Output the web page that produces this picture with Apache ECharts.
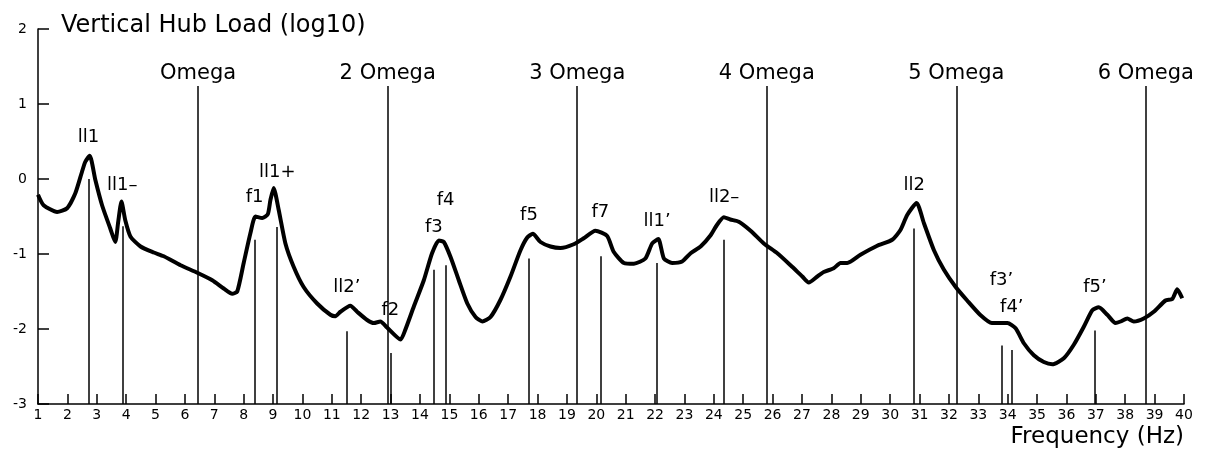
<!DOCTYPE html>
<html>
<head>
<meta charset="utf-8">
<title>Vertical Hub Load</title>
<script src="https://cdn.jsdelivr.net/npm/echarts@6/dist/echarts.min.js"></script>
<style>
  html, body { margin: 0; padding: 0; background: #fff; }
  #chart { width: 1213px; height: 458px; }
</style>
</head>
<body>
<div id="chart"></div>
<script>
// response curve (Hz, log10 load)
const freq = [
  1.00, 1.19, 1.65, 1.99, 2.27, 2.50, 2.61, 2.76, 2.95, 3.18, 3.46, 3.63, 3.73, 3.84, 3.97, 4.15,
  4.49, 4.94, 5.28, 5.85, 6.42, 6.93, 7.32, 7.61, 7.78, 8.00, 8.23, 8.40, 8.63, 8.82, 8.91, 9.02,
  9.19, 9.42, 9.70, 10.04, 10.50, 10.95, 11.12, 11.29, 11.63, 11.86, 12.20, 12.43, 12.65, 12.88,
  13.34, 13.50, 13.79, 14.13, 14.41, 14.64, 14.81, 15.04, 15.32, 15.61, 15.89, 16.12, 16.40, 16.74,
  17.08, 17.42, 17.65, 17.84, 18.10, 18.44, 18.78, 19.23, 19.57, 19.97, 20.37, 20.59, 20.94, 21.28,
  21.67, 21.90, 22.11, 22.30, 22.58, 22.92, 23.21, 23.55, 23.89, 24.11, 24.34, 24.56, 24.85, 25.25,
  25.70, 26.16, 26.61, 27.01, 27.23, 27.52, 27.74, 28.08, 28.31, 28.54, 28.99, 29.56, 30.07, 30.35,
  30.58, 30.90, 31.15, 31.49, 31.83, 32.23, 32.62, 33.06, 33.46, 33.99, 34.27, 34.55, 34.89, 35.23,
  35.52, 35.91, 36.25, 36.59, 36.88, 37.10, 37.39, 37.67, 37.84, 38.07, 38.29, 38.63, 38.97, 39.37,
  39.60, 39.77, 39.94
];
const load = [
  -0.21, -0.35, -0.44, -0.39, -0.19, 0.10, 0.23, 0.31, -0.01, -0.35, -0.66, -0.84, -0.57, -0.30, -0.55, -0.77,
  -0.90, -0.98, -1.03, -1.15, -1.25, -1.35, -1.46, -1.53, -1.50, -1.12, -0.72, -0.50, -0.52, -0.47, -0.28, -0.12,
  -0.41, -0.86, -1.17, -1.44, -1.66, -1.81, -1.83, -1.77, -1.69, -1.77, -1.88, -1.92, -1.90, -1.98,
  -2.14, -2.01, -1.70, -1.35, -0.99, -0.82, -0.84, -1.04, -1.35, -1.66, -1.84, -1.90, -1.84, -1.61,
  -1.30, -0.95, -0.78, -0.73, -0.84, -0.90, -0.92, -0.87, -0.79, -0.69, -0.76, -0.97, -1.12, -1.13,
  -1.06, -0.86, -0.80, -1.06, -1.12, -1.10, -0.99, -0.90, -0.75, -0.61, -0.51, -0.54, -0.57, -0.69,
  -0.86, -0.99, -1.15, -1.30, -1.38, -1.30, -1.24, -1.19, -1.12, -1.12, -1.01, -0.89, -0.81, -0.68,
  -0.48, -0.32, -0.59, -0.95, -1.21, -1.44, -1.62, -1.81, -1.92, -1.92, -1.99, -2.19, -2.35, -2.44,
  -2.47, -2.39, -2.21, -1.97, -1.75, -1.71, -1.81, -1.92, -1.90, -1.86, -1.90, -1.86, -1.77, -1.62,
  -1.60, -1.47, -1.59
];

// identified modes: stem frequency, stem top, label level
const peakNames = ['ll1', 'll1–', 'f1', 'll1+', 'll2’', 'f2', 'f3', 'f4', 'f5', 'f7', 'll1’', 'll2–', 'll2', 'f3’', 'f4’', 'f5’'];
const peakFreq = [2.72, 3.87, 8.37, 9.14, 11.51, 12.99, 14.47, 14.87, 17.71, 20.14, 22.07, 24.35, 30.82, 33.79, 34.14, 36.97];
const peakTop = [0.0, -0.63, -0.81, -0.64, -2.03, -2.32, -1.21, -1.15, -1.06, -1.03, -1.12, -0.81, -0.66, -2.22, -2.28, -2.02];
const peakLabelLevel = [0.55, -0.08, -0.25, 0.09, -1.45, -1.75, -0.64, -0.28, -0.49, -0.45, -0.57, -0.25, -0.09, -1.35, -1.71, -1.45];

// rotor harmonics
const omega = 6.45;
const omegaNames = ['Omega', '2 Omega', '3 Omega', '4 Omega', '5 Omega', '6 Omega'];
const omegaTop = 1.24;
const omegaLabelLevel = 1.41;

const font = 'DejaVu Sans';
const chart = echarts.init(document.getElementById('chart'));

const stems = peakFreq.map((f, i) => [{ coord: [f, -3] }, { coord: [f, peakTop[i]] }]);
const harmonics = omegaNames.map((n, i) => [{ coord: [omega * (i + 1), -3] }, { coord: [omega * (i + 1), omegaTop] }]);

const textLabel = size => ({
  show: true, position: 'inside', formatter: p => p.name,
  fontSize: size, color: '#000', fontFamily: font,
  textBorderWidth: 0, textBorderColor: 'transparent', opacity: 1
});

chart.setOption({
  animation: false,
  textStyle: { fontFamily: font, color: '#000' },
  title: {
    text: 'Vertical Hub Load (log10)',
    left: 56, top: 9,
    textStyle: { fontFamily: font, fontSize: 24, fontWeight: 'normal', color: '#000' }
  },
  graphic: [{
    type: 'text', right: 29, top: 426,
    style: { text: 'Frequency (Hz)', font: '23px "DejaVu Sans"', fill: '#000' }
  }],
  grid: { left: 38, right: 29, top: 29, bottom: 54 },
  xAxis: {
    type: 'value', min: 1, max: 40, interval: 1,
    axisLine: { onZero: false, lineStyle: { color: '#000', width: 1.5 } },
    axisTick: { inside: true, length: 10, lineStyle: { color: '#000', width: 1.5 } },
    axisLabel: { fontSize: 14, color: '#000', margin: 4, fontFamily: font },
    splitLine: { show: false }
  },
  yAxis: {
    type: 'value', min: -3, max: 2, interval: 1,
    axisLine: { show: true, onZero: false, lineStyle: { color: '#000', width: 1.5 } },
    axisTick: { show: true, inside: true, length: 11, lineStyle: { color: '#000', width: 1.5 } },
    axisLabel: { fontSize: 14, color: '#000', margin: 11, fontFamily: font },
    splitLine: { show: false }
  },
  series: [
    {
      type: 'line',
      data: freq.map((f, i) => [f, load[i]]),
      symbol: 'none',
      smooth: 0.2,
      lineStyle: { color: '#000', width: 4 },
      z: 5,
      markLine: {
        silent: true,
        symbol: 'none',
        lineStyle: { color: '#000', width: 1.5, type: 'solid' },
        label: { show: false },
        data: stems.concat(harmonics)
      }
    },
    {
      type: 'scatter',
      data: peakFreq.map((f, i) => ({ value: [f, peakLabelLevel[i]], name: peakNames[i] })),
      symbolSize: 1,
      itemStyle: { color: 'transparent' },
      label: textLabel(18),
      silent: true
    },
    {
      type: 'scatter',
      data: omegaNames.map((n, i) => ({ value: [omega * (i + 1), omegaLabelLevel], name: n })),
      symbolSize: 1,
      itemStyle: { color: 'transparent' },
      label: textLabel(21),
      silent: true
    }
  ]
});
</script>
</body>
</html>
